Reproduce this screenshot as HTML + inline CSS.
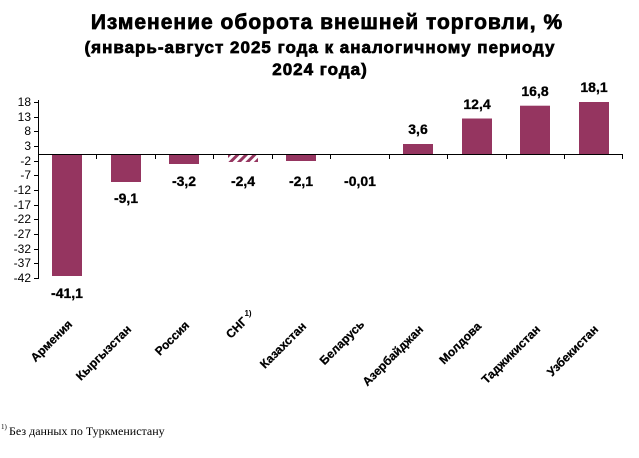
<!DOCTYPE html>
<html><head><meta charset="utf-8"><style>
html,body{margin:0;padding:0;background:#fff;}
svg{display:block}
</style></head><body>
<svg width="639" height="458" viewBox="0 0 639 458" xmlns="http://www.w3.org/2000/svg">
<defs>
<pattern id="h" patternUnits="userSpaceOnUse" width="6" height="6" patternTransform="rotate(45)">
<rect width="6" height="6" fill="#fff"/><rect width="3" height="6" fill="#953560"/>
</pattern>
</defs>
<g font-family="Liberation Sans, sans-serif" font-weight="bold" text-anchor="middle" fill="#000" stroke="#000" stroke-width="0.7">
<text x="327" y="29" font-size="21" letter-spacing="1">Изменение оборота внешней торговли, %</text>
<text x="320" y="53" font-size="17" letter-spacing="1">(январь-август 2025 года к аналогичному периоду</text>
<text x="320" y="75" font-size="17" letter-spacing="1">2024 года)</text>
</g>
<g font-family="Liberation Sans, sans-serif" font-size="12" text-anchor="end" fill="#000">
<text x="31" y="106">18</text><text x="31" y="121">13</text><text x="31" y="135">8</text>
<text x="31" y="150">3</text><text x="31" y="165">-2</text><text x="31" y="179">-7</text>
<text x="31" y="194">-12</text><text x="31" y="209">-17</text><text x="31" y="223">-22</text>
<text x="31" y="238">-27</text><text x="31" y="253">-32</text><text x="31" y="267">-37</text>
<text x="31" y="282">-42</text>
</g>
<g stroke="#000" stroke-width="1">
<line x1="38.5" y1="100" x2="38.5" y2="279"/>
<line x1="34" y1="102.5" x2="38" y2="102.5"/><line x1="34" y1="117.5" x2="38" y2="117.5"/>
<line x1="34" y1="131.5" x2="38" y2="131.5"/><line x1="34" y1="146.5" x2="38" y2="146.5"/>
<line x1="34" y1="161.5" x2="38" y2="161.5"/><line x1="34" y1="175.5" x2="38" y2="175.5"/>
<line x1="34" y1="190.5" x2="38" y2="190.5"/><line x1="34" y1="205.5" x2="38" y2="205.5"/>
<line x1="34" y1="219.5" x2="38" y2="219.5"/><line x1="34" y1="234.5" x2="38" y2="234.5"/>
<line x1="34" y1="249.5" x2="38" y2="249.5"/><line x1="34" y1="263.5" x2="38" y2="263.5"/>
<line x1="34" y1="278.5" x2="38" y2="278.5"/>
</g>
<g fill="#953560">
<rect x="52" y="155" width="30" height="121"/>
<rect x="111" y="155" width="30" height="27"/>
<rect x="169" y="155" width="30" height="9"/>
<rect x="228" y="155" width="30" height="7" fill="url(#h)"/>
<rect x="286" y="155" width="30" height="6"/>
<rect x="345" y="154" width="30" height="1"/>
<rect x="403" y="144" width="30" height="11"/>
<rect x="462" y="118.5" width="30" height="36.5"/>
<rect x="520" y="105.7" width="30" height="49.3"/>
<rect x="579" y="102" width="30" height="53"/>
</g>
<g stroke="#000" stroke-width="1">
<line x1="38" y1="154.5" x2="623" y2="154.5"/>
<line x1="96.5" y1="155" x2="96.5" y2="159"/><line x1="155.5" y1="155" x2="155.5" y2="159"/>
<line x1="213.5" y1="155" x2="213.5" y2="159"/><line x1="272.5" y1="155" x2="272.5" y2="159"/>
<line x1="330.5" y1="155" x2="330.5" y2="159"/><line x1="389.5" y1="155" x2="389.5" y2="159"/>
<line x1="447.5" y1="155" x2="447.5" y2="159"/><line x1="506.5" y1="155" x2="506.5" y2="159"/>
<line x1="564.5" y1="155" x2="564.5" y2="159"/><line x1="622.5" y1="155" x2="622.5" y2="159"/>
</g>
<g font-family="Liberation Sans, sans-serif" font-size="14" font-weight="bold" text-anchor="middle" fill="#000" stroke="#000" stroke-width="0.3">
<text x="67" y="298">-41,1</text>
<text x="126" y="203">-9,1</text>
<text x="184" y="186">-3,2</text>
<text x="243" y="186">-2,4</text>
<text x="301" y="186">-2,1</text>
<text x="360" y="186">-0,01</text>
<text x="418" y="134">3,6</text>
<text x="477" y="109">12,4</text>
<text x="535" y="96">16,8</text>
<text x="594" y="92">18,1</text>
</g>
<g font-family="Liberation Sans, sans-serif" font-size="12" font-weight="bold" text-anchor="end" fill="#000" stroke="#000" stroke-width="0.25">
<text transform="translate(73,325) rotate(-45)">Армения</text>
<text transform="translate(132,330) rotate(-45)">Кыргызстан</text>
<text transform="translate(190,326) rotate(-45)">Россия</text>
<text transform="translate(248,322) rotate(-45)">СНГ</text>
<text transform="translate(307,327) rotate(-45)">Казахстан</text>
<text transform="translate(365,325) rotate(-45)">Беларусь</text>
<text transform="translate(424,330) rotate(-45)">Азербайджан</text>
<text transform="translate(482,327) rotate(-45)">Молдова</text>
<text transform="translate(541,330) rotate(-45)">Таджикистан</text>
<text transform="translate(599,330) rotate(-45)">Узбекистан</text>
<text x="248" y="316" font-size="8" text-anchor="middle" stroke-width="0">1)</text>
</g>
<g font-family="Liberation Serif, serif" fill="#000">
<text x="1" y="429" font-size="7">1)</text>
<text x="9" y="435" font-size="12">Без данных по Туркменистану</text>
</g>
</svg>
</body></html>
